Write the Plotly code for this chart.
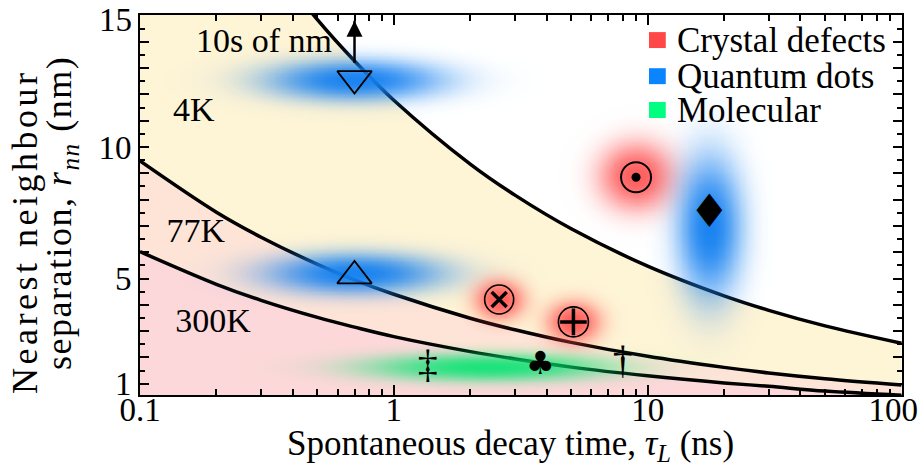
import numpy as np
import plotly.graph_objects as go

SERIF = "Liberation Serif, Times New Roman, DejaVu Serif, serif"
SYMF = "DejaVu Sans, sans-serif"

# Boundary curves: nearest-neighbour separation (nm) vs spontaneous decay time (ns)
tau = [0.1, 0.2, 0.3, 0.5, 0.7, 1, 2, 3, 5, 10, 20, 30, 50, 100]
r_4k = [25.38, 20.14, 17.60, 14.84, 13.27, 11.78, 9.35, 8.17, 6.89, 5.47, 4.34, 3.79, 3.20, 2.54]
r_77k = [9.47, 7.52, 6.57, 5.54, 4.95, 4.40, 3.49, 3.05, 2.57, 2.04, 1.62, 1.41, 1.19, 0.95]
r_300k = [6.02, 4.78, 4.17, 3.52, 3.15, 2.79, 2.22, 1.94, 1.63, 1.30, 1.03, 0.90, 0.72, 0.56]

# Region shading below each boundary
fill_300k = "#fdd8da"
fill_77k = "#fee4d7"
fill_4k = "#fef4d6"

# Category glows (centre tau, centre r, reach in decades, reach in nm)
blob_kind = ["qd", "qd", "cd", "qd", "cd", "cd", "mol"]
blob_tau = [0.7, 0.7, 9.0, 17.5, 2.6, 5.1, 2.35]
blob_r = [12.55, 5.2, 8.9, 6.96, 4.2, 3.35, 1.63]
blob_rx = [0.56, 0.56, 0.235, 0.205, 0.155, 0.165, 0.76]
blob_ry = [1.25, 1.25, 2.05, 4.3, 1.2, 1.25, 0.85]
kind_rgb = {"cd": "255,72,72", "qd": "20,128,240", "mol": "0,228,110"}
kind_peak = {"cd": 0.88, "qd": 0.97, "mol": 0.88}

# Legend entries
legend_labels = ["Crystal defects", "Quantum dots", "Molecular"]
legend_colors = ["#ff4747", "#0a84ff", "#00ff80"]

# Individual systems
tri_down = (0.7, 12.6)
tri_up = (0.7, 5.1)
odot = (9.0, 8.85)
otimes = (2.6, 4.2)
oplus = (5.1, 3.35)
diamond = (17.5, 7.4)
glyph_text = ["\u2021", "\u2663", "\u2020"]
glyph_tau = [1.36, 3.78, 7.98]
glyph_r = [1.62, 1.69, 1.8]
glyph_font = [SERIF, SYMF, SERIF]
glyph_size = [40, 32, 40]

# "10s of nm" arrow
arrow_tau = 0.7
arrow_r = [13.2, 14.8]

# Region labels
label_text = ["10s of nm", "4K", "77K", "300K"]
label_tau = [0.308, 0.163, 0.166, 0.194]
label_r = [13.92, 11.3, 6.7, 3.29]

# Axis ticks
x_ticks = [0.1, 1, 10, 100]
x_ticktext = ["0.1", "1", "10", "100\u2007"]
y_labelled = [1, 5, 10]
y_top_label = 15

YR = [0.57, 15.02]
XR = [-1, 2.002]

fig = go.Figure()

# shaded regions and boundary lines
fig.add_trace(go.Scatter(x=tau, y=r_300k, mode="lines", fill="tozeroy", fillcolor=fill_300k,
                         line=dict(color="black", width=3.5, shape="spline"), hoverinfo="skip"))
fig.add_trace(go.Scatter(x=tau, y=r_77k, mode="lines", fill="tonexty", fillcolor=fill_77k,
                         line=dict(color="black", width=3.5, shape="spline"), hoverinfo="skip"))
fig.add_trace(go.Scatter(x=tau, y=r_4k, mode="lines", fill="tonexty", fillcolor=fill_4k,
                         line=dict(color="black", width=3.5, shape="spline"), hoverinfo="skip"))

# soft glows on an overlaid subplot (x2 carries log10 of tau) above the boundary lines
for k, tc, rc, rx, ry in zip(blob_kind, blob_tau, blob_r, blob_rx, blob_ry):
    lc = np.log10(tc)
    lx = np.linspace(lc - 1.35 * rx, lc + 1.35 * rx, 161)
    yy = np.linspace(rc - 1.35 * ry, rc + 1.35 * ry, 111)
    X, Y = np.meshgrid(lx, yy)
    rho = np.sqrt(((X - lc) / rx) ** 2 + ((Y - rc) / ry) ** 2)
    Z = np.exp(-3.0 * rho ** 2.4)
    rgb = kind_rgb[k]
    fig.add_trace(go.Heatmap(x=lx, y=yy, z=Z, zmin=0, zmax=1, zsmooth="best",
                             colorscale=[[0, f"rgba({rgb},0)"], [1, f"rgba({rgb},{kind_peak[k]})"]],
                             showscale=False, hoverinfo="skip", xaxis="x2", yaxis="y2"))


def mark(pt, symbol, size, lw, color="black"):
    fig.add_trace(go.Scatter(x=[pt[0]], y=[pt[1]], mode="markers", xaxis="x3", yaxis="y3",
                             marker=dict(symbol=symbol, size=size, color=color,
                                         line=dict(width=lw, color="black")),
                             hoverinfo="skip"))


mark(tri_down, "triangle-down-open", 30, 1.8)
mark(tri_up, "triangle-up-open", 30, 1.8)
mark(odot, "circle-open", 30, 2)
mark(odot, "circle", 9, 0)
mark(otimes, "circle-open", 29, 1.6)
mark(otimes, "x-thin-open", 15, 3.5)
mark(oplus, "circle-open", 30, 1.6)
mark(oplus, "cross-thin-open", 19, 3.5)

fig.add_trace(go.Scatter(x=[diamond[0]], y=[diamond[1]], mode="text", text=["\u2666"],
                         textfont=dict(family=SYMF, size=46, color="black"),
                         xaxis="x3", yaxis="y3", hoverinfo="skip"))

for g, gt, gr, gf, gs in zip(glyph_text, glyph_tau, glyph_r, glyph_font, glyph_size):
    fig.add_trace(go.Scatter(x=[gt], y=[gr], mode="text", text=[g],
                             textfont=dict(family=gf, size=gs, color="black"),
                             xaxis="x3", yaxis="y3", hoverinfo="skip"))

# arrow towards tens of nanometres
fig.add_trace(go.Scatter(x=[arrow_tau, arrow_tau], y=arrow_r, mode="lines",
                         line=dict(color="black", width=2.5), xaxis="x3", yaxis="y3", hoverinfo="skip"))
fig.add_trace(go.Scatter(x=[arrow_tau], y=[arrow_r[1]], mode="markers", xaxis="x3", yaxis="y3",
                         marker=dict(symbol="arrow-up", size=16, color="black", line=dict(width=0)),
                         hoverinfo="skip"))

fig.add_trace(go.Scatter(x=label_tau, y=label_r, mode="text", text=label_text,
                         textfont=dict(family=SERIF, size=34, color="black"),
                         xaxis="x3", yaxis="y3", hoverinfo="skip"))

tick_font = dict(family=SERIF, size=33, color="black")
minor_x = [m * 10 ** e for e in (-1, 0, 1) for m in range(2, 10)]
fig.update_layout(
    width=924, height=468,
    margin=dict(l=140, r=22, t=15, b=73, autoexpand=False),
    paper_bgcolor="white", plot_bgcolor="white",
    showlegend=False,
    xaxis=dict(type="log", range=XR, showline=True, linecolor="black", linewidth=2,
               mirror="ticks", ticks="inside", ticklen=10, tickwidth=2, tickcolor="black",
               tickvals=x_ticks, ticktext=x_ticktext,
               tickfont=tick_font, showgrid=False, zeroline=False, ticklabelstandoff=-16,
               ticklabeloverflow="allow", automargin=False,
               minor=dict(tickmode="array", tickvals=minor_x, ticks="inside", ticklen=6,
                          tickwidth=2, tickcolor="black", showgrid=False)),
    yaxis=dict(range=YR, showline=True, linecolor="black", linewidth=2,
               mirror="ticks", ticks="inside", ticklen=9, tickwidth=2, tickcolor="black",
               tickvals=list(range(1, 16)),
               ticktext=[str(v) if v in y_labelled else "" for v in range(1, 16)],
               tickfont=tick_font, showgrid=False, zeroline=False, ticklabeloverflow="allow",
               automargin=False,
               minor=dict(tickmode="linear", tick0=0.5, dtick=1, ticks="inside", ticklen=5,
                          tickwidth=2, tickcolor="black", showgrid=False)),
    xaxis2=dict(range=XR, overlaying="x", visible=False, automargin=False),
    yaxis2=dict(range=YR, overlaying="y", visible=False, automargin=False),
    xaxis3=dict(type="log", range=XR, overlaying="x", visible=False, automargin=False),
    yaxis3=dict(range=YR, overlaying="y", visible=False, automargin=False),
)

# top y label, nudged down so it stays inside the figure
fig.add_annotation(text=str(y_top_label), xref="paper", yref="paper", x=-0.008, y=0.986,
                   xanchor="right", yanchor="middle", showarrow=False, font=tick_font)

# legend drawn as swatches plus labels
row_y = [0.934, 0.839, 0.75]
for lab, col, yc in zip(legend_labels, legend_colors, row_y):
    fig.add_shape(type="rect", xref="paper", yref="paper", x0=0.668, x1=0.690,
                  y0=yc - 0.021, y1=yc + 0.021, fillcolor=col, line=dict(width=0))
    fig.add_annotation(text=lab, xref="paper", yref="paper", x=0.702, y=yc,
                       xanchor="left", yanchor="middle", showarrow=False,
                       font=dict(family=SERIF, size=35, color="black"))

# axis titles
fig.add_annotation(text="Spontaneous decay time, <i>\u03c4</i><sub><i>L</i></sub> (ns)",
                   xref="paper", yref="paper", x=0.486, y=-0.134, xanchor="center", yanchor="middle",
                   showarrow=False, font=dict(family=SERIF, size=35, color="black"))
fig.add_annotation(text='<span style="letter-spacing:3.5px">Nearest neighbour</span>',
                   xref="paper", yref="paper", x=-0.151, y=0.429,
                   xanchor="center", yanchor="middle", textangle=-90, showarrow=False,
                   font=dict(family=SERIF, size=36, color="black"))
fig.add_annotation(text='<span style="letter-spacing:1.5px">separation, <i>r</i><sub><i>nn</i></sub> (nm)</span>',
                   xref="paper", yref="paper",
                   x=-0.1024, y=0.479, xanchor="center", yanchor="middle", textangle=-90,
                   showarrow=False, font=dict(family=SERIF, size=36, color="black"))

fig.write_html("out.html")
